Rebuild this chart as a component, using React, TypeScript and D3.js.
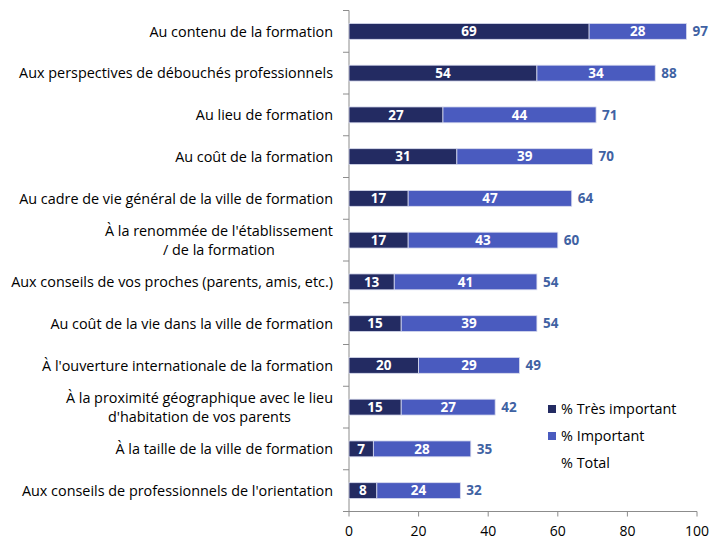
import React, { useEffect, useRef } from "react";
import * as d3 from "d3";

const categories: string[][] = [
  ["Au contenu de la formation"],
  ["Aux perspectives de débouchés professionnels"],
  ["Au lieu de formation"],
  ["Au coût de la formation"],
  ["Au cadre de vie général de la ville de formation"],
  ["À la renommée de l'établissement", "/ de la formation"],
  ["Aux conseils de vos proches (parents, amis, etc.)"],
  ["Au coût de la vie dans la ville de formation"],
  ["À l'ouverture internationale de la formation"],
  ["À la proximité géographique avec le lieu", "d'habitation de vos parents"],
  ["À la taille de la ville de formation"],
  ["Aux conseils de professionnels de l'orientation"],
];
const tresImportant = [69, 54, 27, 31, 17, 17, 13, 15, 20, 15, 7, 8];
const important = [28, 34, 44, 39, 47, 43, 41, 39, 29, 27, 28, 24];
const total = [97, 88, 71, 70, 64, 60, 54, 54, 49, 42, 35, 32];
const xTicks = [0, 20, 40, 60, 80, 100];
const legendLabels = ["% Très important", "% Important", "% Total"];

const W = 711;
const H = 540;
const DARK = "#232b62";
const MID = "#4a5bbf";
const TOTAL_COLOR = "#3f62a3";
const FONT = "'Open Sans', Lato, sans-serif";
const FS_LABEL = 14.4;
const FS_VAL = 13.5;
const FS_TICK = 14;

export default function App() {
  const ref = useRef<SVGSVGElement | null>(null);
  useEffect(() => {
    const svg = d3.select(ref.current);
    svg.selectAll("*").remove();
    const left = 349;
    const right = 697;
    const top = 10.5;
    const bottom = 511.5;
    const x = d3.scaleLinear().domain([0, 100]).range([left, right]);
    const idx = categories.map((_, i) => String(i));
    const y = d3.scaleBand().domain(idx).range([top, bottom]).paddingInner(0.62).paddingOuter(0.31);
    const band = (bottom - top) / categories.length;

    const g = svg.append("g");
    g.append("line").attr("x1", left).attr("x2", left).attr("y1", top).attr("y2", bottom)
      .attr("stroke", "#8c8c8c").attr("stroke-width", 1);
    for (let i = 0; i <= categories.length; i++) {
      const yy = top + i * band;
      g.append("line").attr("x1", left - 6).attr("x2", left).attr("y1", yy).attr("y2", yy)
        .attr("stroke", "#8c8c8c");
    }
    g.append("line").attr("x1", left).attr("x2", right).attr("y1", bottom).attr("y2", bottom)
      .attr("stroke", "#8c8c8c");
    xTicks.forEach((t) => {
      g.append("line").attr("x1", x(t)).attr("x2", x(t)).attr("y1", bottom).attr("y2", bottom + 5)
        .attr("stroke", "#8c8c8c");
      g.append("text").attr("x", x(t)).attr("y", bottom + 24).attr("text-anchor", "middle")
        .attr("font-family", FONT).attr("font-size", FS_TICK).attr("fill", "#000").text(String(t));
    });

    categories.forEach((lines, i) => {
      const by = y(String(i))!;
      const bh = y.bandwidth();
      const cy = by + bh / 2;
      const a = tresImportant[i];
      const b = important[i];
      g.append("rect").attr("x", x(0)).attr("y", by).attr("width", x(a) - x(0)).attr("height", bh)
        .attr("fill", DARK).attr("stroke", "#d9dcef").attr("stroke-width", 0.8);
      g.append("rect").attr("x", x(a)).attr("y", by).attr("width", x(a + b) - x(a)).attr("height", bh)
        .attr("fill", MID).attr("stroke", "#d9dcef").attr("stroke-width", 0.8);
      g.append("text").attr("x", (x(0) + x(a)) / 2).attr("y", cy).attr("dy", "0.36em")
        .attr("text-anchor", "middle").attr("font-family", FONT).attr("font-weight", "bold")
        .attr("font-size", FS_VAL).attr("fill", "#fff").text(String(a));
      g.append("text").attr("x", (x(a) + x(a + b)) / 2).attr("y", cy).attr("dy", "0.36em")
        .attr("text-anchor", "middle").attr("font-family", FONT).attr("font-weight", "bold")
        .attr("font-size", FS_VAL).attr("fill", "#fff").text(String(b));
      g.append("text").attr("x", x(a + b) + 6).attr("y", cy).attr("dy", "0.36em")
        .attr("text-anchor", "start").attr("font-family", FONT).attr("font-weight", "bold")
        .attr("font-size", FS_VAL).attr("fill", TOTAL_COLOR).text(String(total[i]));

      const labelX = 333;
      if (lines.length === 1) {
        g.append("text").attr("x", labelX).attr("y", cy).attr("dy", "0.36em")
          .attr("text-anchor", "end").attr("font-family", FONT).attr("font-size", FS_LABEL)
          .attr("fill", "#000").text(lines[0]);
      } else {
        const t1 = g.append("text").attr("x", labelX).attr("y", cy - 9.5).attr("dy", "0.36em")
          .attr("text-anchor", "end").attr("font-family", FONT).attr("font-size", FS_LABEL)
          .attr("fill", "#000").text(lines[0]);
        const w1 = (t1.node() as SVGTextElement).getComputedTextLength();
        g.append("text").attr("x", labelX - w1 / 2).attr("y", cy + 9.5).attr("dy", "0.36em")
          .attr("text-anchor", "middle").attr("font-family", FONT).attr("font-size", FS_LABEL)
          .attr("fill", "#000").text(lines[1]);
      }
    });

    const legendColors = [DARK, MID, null];
    legendLabels.forEach((l, i) => {
      const ly = 409 + i * 27;
      const c = legendColors[i];
      if (c) {
        g.append("rect").attr("x", 548).attr("y", ly - 4).attr("width", 8).attr("height", 8).attr("fill", c);
      }
      g.append("text").attr("x", 561).attr("y", ly).attr("dy", "0.36em")
        .attr("font-family", FONT).attr("font-size", FS_LABEL).attr("fill", "#000").text(l);
    });
  }, []);
  return (
    <svg ref={ref} width={W} height={H} style={{ position: "absolute", left: 0, top: 0, background: "#fff" }} />
  );
}
